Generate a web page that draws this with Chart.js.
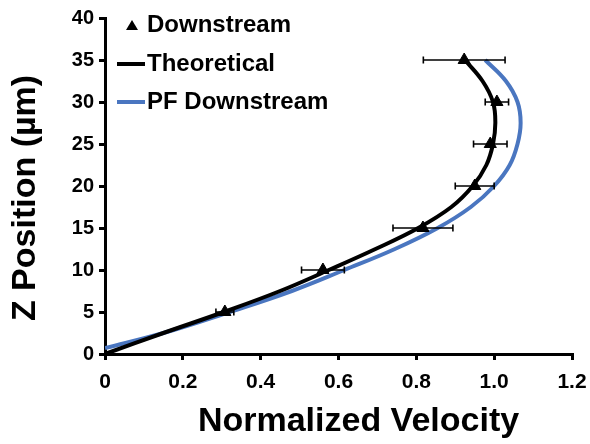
<!DOCTYPE html>
<html>
<head>
<meta charset="utf-8">
<script src="https://cdn.jsdelivr.net/npm/chart.js@4/dist/chart.umd.min.js"></script>
<style>
  html, body { margin: 0; padding: 0; background: #fff; }
  canvas { display: block; }
</style>
</head>
<body>
<canvas id="profile" width="590" height="444"></canvas>
<script>
// Measured points (z in µm, normalized velocity)
const zMeasured = [5, 10, 15, 20, 25, 30, 35];
const vMeasured = [0.308, 0.56, 0.817, 0.95, 0.99, 1.007, 0.923];
const vError = [0.023, 0.055, 0.077, 0.05, 0.043, 0.03, 0.105];

// Theoretical profile
const zTheory = [0, 2.5, 5, 7.5, 10, 12.5, 15, 17.5, 20, 22.5, 25, 27.5, 30, 32.5, 35];
const vTheory = [0, 0.15, 0.305, 0.45, 0.575, 0.695, 0.805, 0.89, 0.945, 0.98, 0.997, 1.003, 0.997, 0.97, 0.925];

// PF downstream profile
const zPF = [0.7, 2.5, 5, 7.5, 10, 12.5, 15, 17.5, 20, 22.5, 25, 27.5, 30, 32.5, 35];
const vPF = [0, 0.15, 0.32, 0.48, 0.615, 0.745, 0.855, 0.94, 1.0, 1.04, 1.06, 1.068, 1.06, 1.03, 0.977];

const xTicks = [0, 0.2, 0.4, 0.6, 0.8, 1.0, 1.2];

const FONT = "'Liberation Sans', Arial, sans-serif";
const BLUE = '#4a76c0';

const toXY = (xs, ys) => xs.map((x, i) => ({ x: x, y: ys[i] }));

// horizontal error bars with caps
const errorBars = {
    id: 'errorBars',
    afterDatasetsDraw(chart) {
        const { ctx, scales: { x, y } } = chart;
        ctx.save();
        ctx.strokeStyle = '#000';
        ctx.lineWidth = 1.6;
        zMeasured.forEach((z, i) => {
            const py = y.getPixelForValue(z);
            const x0 = x.getPixelForValue(vMeasured[i] - vError[i]);
            const x1 = x.getPixelForValue(vMeasured[i] + vError[i]);
            ctx.beginPath();
            ctx.moveTo(x0, py); ctx.lineTo(x1, py);
            ctx.moveTo(x0, py - 3.5); ctx.lineTo(x0, py + 3.5);
            ctx.moveTo(x1, py - 3.5); ctx.lineTo(x1, py + 3.5);
            ctx.stroke();
        });
        ctx.restore();
    }
};

// legend inside the plot and the two axis titles
const decorations = {
    id: 'decorations',
    afterDraw(chart) {
        const { ctx, chartArea: a } = chart;
        ctx.save();
        ctx.fillStyle = '#000';
        ctx.textBaseline = 'middle';
        ctx.font = 'bold 24px ' + FONT;

        // legend
        const lx = a.left + 12, ly = a.top + 7;
        ctx.beginPath();
        ctx.moveTo(lx + 15, ly - 5);
        ctx.lineTo(lx + 21, ly + 5);
        ctx.lineTo(lx + 9, ly + 5);
        ctx.closePath();
        ctx.fill();
        ctx.fillText('Downstream', lx + 30, ly);

        const rows = [['Theoretical', '#000', 39], ['PF Downstream', BLUE, 77]];
        rows.forEach(([label, color, dy]) => {
            ctx.strokeStyle = color;
            ctx.lineWidth = 4;
            ctx.beginPath();
            ctx.moveTo(lx, ly + dy);
            ctx.lineTo(lx + 28, ly + dy);
            ctx.stroke();
            ctx.fillText(label, lx + 30, ly + dy);
        });

        // axis titles
        ctx.font = 'bold 34px ' + FONT;
        ctx.textAlign = 'center';
        ctx.fillText('Normalized Velocity', (a.left + a.right) / 2 + 20, a.bottom + 68);
        ctx.translate(26, (a.top + a.bottom) / 2 + 12);
        ctx.rotate(-Math.PI / 2);
        ctx.fillText('Z Position (µm)', 0, 0);
        ctx.restore();
    }
};

new Chart(document.getElementById('profile'), {
    type: 'scatter',
    data: {
        datasets: [{
            label: 'Downstream',
            data: toXY(vMeasured, zMeasured),
            pointStyle: 'triangle',
            pointRadius: 7,
            backgroundColor: '#000',
            borderColor: '#000',
            order: 0
        }, {
            label: 'Theoretical',
            data: toXY(vTheory, zTheory),
            showLine: true,
            borderColor: '#000',
            borderWidth: 4,
            pointRadius: 0,
            tension: 0.4,
            order: 1
        }, {
            label: 'PF Downstream',
            data: toXY(vPF, zPF),
            showLine: true,
            borderColor: BLUE,
            borderWidth: 4,
            pointRadius: 0,
            tension: 0.4,
            order: 2
        }]
    },
    options: {
        responsive: false,
        animation: false,
        layout: { padding: { top: 18, right: 18, left: 0, bottom: 0 } },
        plugins: {
            legend: { display: false },
            tooltip: { enabled: false }
        },
        scales: {
            x: {
                type: 'linear',
                min: 0,
                max: 1.2,
                afterFit: s => {
                    s.height = 90;
                    s.paddingLeft = 0;
                    s.paddingRight = 0;
                },
                afterBuildTicks: s => { s.ticks = xTicks.map(v => ({ value: v })); },
                grid: { drawOnChartArea: false, tickLength: 6, tickColor: '#000', lineWidth: 3 },
                border: { color: '#000', width: 3 },
                ticks: {
                    color: '#000',
                    padding: 10,
                    maxRotation: 0,
                    font: { family: FONT, size: 21, weight: 'bold' },
                    callback: v => v === 0 ? '0' : v.toFixed(1)
                }
            },
            y: {
                type: 'linear',
                min: 0,
                max: 40,
                afterFit: s => { s.width = 105; },
                grid: { drawOnChartArea: false, tickLength: 6, tickColor: '#000', lineWidth: 3 },
                border: { color: '#000', width: 3 },
                ticks: {
                    stepSize: 5,
                    color: '#000',
                    padding: 5,
                    font: { family: FONT, size: 20, weight: 'bold' }
                }
            }
        }
    },
    plugins: [errorBars, decorations]
});
</script>
</body>
</html>
